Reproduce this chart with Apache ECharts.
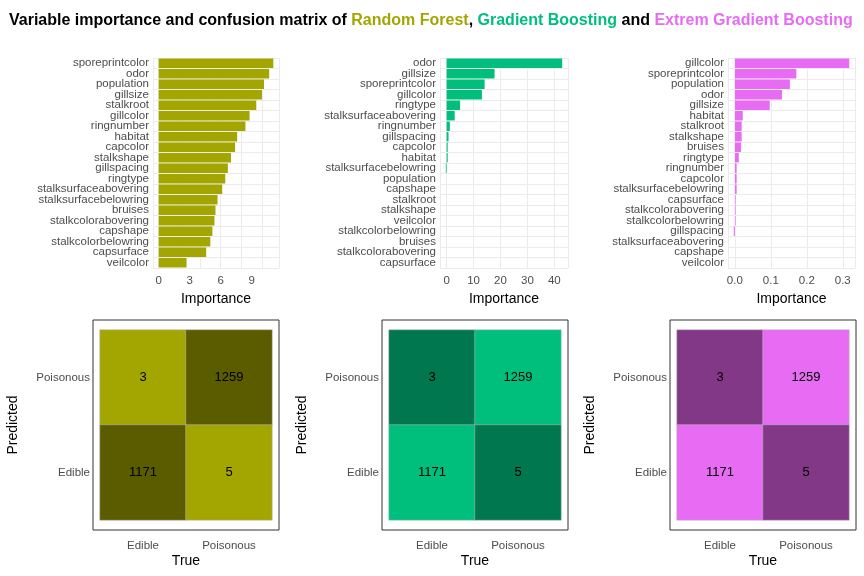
<!DOCTYPE html>
<html><head><meta charset="utf-8">
<script src="https://cdn.jsdelivr.net/npm/echarts@6/dist/echarts.min.js"></script>
<style>html,body{margin:0;padding:0;background:#fff}#c{width:864px;height:576px}</style>
</head><body><div id="c"></div>
<script>
// importance, listed top to bottom
const rfVars = ['sporeprintcolor','odor','population','gillsize','stalkroot','gillcolor','ringnumber','habitat','capcolor','stalkshape','gillspacing','ringtype','stalksurfaceabovering','stalksurfacebelowring','bruises','stalkcolorabovering','capshape','stalkcolorbelowring','capsurface','veilcolor'];
const rfImp = [11.1,10.7,10.2,10.0,9.45,8.8,8.4,7.6,7.4,7.0,6.7,6.45,6.15,5.7,5.5,5.4,5.2,5.0,4.6,2.7];
const gbVars = ['odor','gillsize','sporeprintcolor','gillcolor','ringtype','stalksurfaceabovering','ringnumber','gillspacing','capcolor','habitat','stalksurfacebelowring','population','capshape','stalkroot','stalkshape','veilcolor','stalkcolorbelowring','bruises','stalkcolorabovering','capsurface'];
const gbImp = [42.9,17.8,14.1,13.1,5.0,3.0,1.2,0.7,0.4,0.4,-0.3,0,0,0,0,0,0,0,0,0];
const xgVars = ['gillcolor','sporeprintcolor','population','odor','gillsize','habitat','stalkroot','stalkshape','bruises','ringtype','ringnumber','capcolor','stalksurfacebelowring','capsurface','stalkcolorabovering','stalkcolorbelowring','gillspacing','stalksurfaceabovering','capshape','veilcolor'];
const xgImp = [0.318,0.171,0.153,0.131,0.097,0.022,0.019,0.019,0.017,0.011,0.005,0.005,0.005,0.002,0.002,0.002,-0.003,0,0,0];
// confusion matrix: [true, predicted, count]
const classes = ['Edible','Poisonous'];
const confusion = [[0,1,3],[1,1,1259],[0,0,1171],[1,0,5]];

const chart = echarts.init(document.getElementById('c'));
const txt = '#4d4d4d', grid = '#ebebeb';

const panels = [
  {vars: rfVars, imp: rfImp, col: '#A3A500', dark: '#5B5B00', left: 153, right: 864-279, min: -0.55, max: 11.65, ticks: [0,3,6,9], tileL: 100, hiCells: [0,3]},
  {vars: gbVars, imp: gbImp, col: '#00BF7D', dark: '#00774E', left: 440, right: 864-568, min: -2.46, max: 45.06, ticks: [0,10,20,30,40], tileL: 389, hiCells: [1,2]},
  {vars: xgVars, imp: xgImp, col: '#E76BF3', dark: '#823887', left: 728, right: 864-855, min: -0.019, max: 0.334, ticks: [0,0.1,0.2,0.3], tileL: 677, hiCells: [1,2]}
];

const grids = [], xAxes = [], yAxes = [], series = [], graphic = [];
panels.forEach(function (p, i) {
  // bar panel
  grids.push({left: p.left, right: p.right, top: 58, bottom: 576-268});
  xAxes.push({type: 'value', gridIndex: 2*i, min: p.min, max: p.max,
    name: 'Importance', nameLocation: 'middle', nameGap: 24, nameTextStyle: {fontSize: 14, color: '#000'},
    axisLine: {show: false}, axisTick: {show: false},
    axisLabel: {customValues: p.ticks, color: txt, fontSize: 11.5, margin: 7,
      formatter: function (v) { return i == 2 ? v.toFixed(1) : String(v); }},
    splitLine: {lineStyle: {color: grid}}});
  yAxes.push({type: 'category', gridIndex: 2*i, data: p.vars, inverse: true,
    axisLine: {show: false}, axisTick: {show: false},
    axisLabel: {color: txt, fontSize: 11.5, margin: 4, interval: 0, lineHeight: 10},
    splitLine: {show: true, interval: 0, lineStyle: {color: grid}}});
  series.push({type: 'bar', xAxisIndex: 2*i, yAxisIndex: 2*i, data: p.imp, barWidth: '90%',
    itemStyle: {color: p.col}, silent: true});
  // confusion matrix panel
  grids.push({left: p.tileL, width: 172, top: 330, height: 190});
  xAxes.push({type: 'category', gridIndex: 2*i+1, data: classes,
    name: 'True', nameLocation: 'middle', nameGap: 34, nameTextStyle: {fontSize: 14, color: '#000'},
    axisLine: {show: false}, axisTick: {show: false},
    axisLabel: {color: txt, fontSize: 11.5, margin: 20}, splitLine: {show: false}});
  yAxes.push({type: 'category', gridIndex: 2*i+1, data: classes,
    name: 'Predicted', nameLocation: 'middle', nameGap: 80, nameRotate: 90,
    nameTextStyle: {fontSize: 14, color: '#000'},
    axisLine: {show: false}, axisTick: {show: false},
    axisLabel: {color: txt, fontSize: 11.5, margin: 10}, splitLine: {show: false}});
  series.push({type: 'heatmap', xAxisIndex: 2*i+1, yAxisIndex: 2*i+1, silent: true,
    data: confusion.map(function (d, k) {
      return {value: d, itemStyle: {color: p.hiCells.indexOf(k) >= 0 ? p.col : p.dark, borderColor: '#bbbbbb', borderWidth: 0.5}};
    }),
    label: {show: true, color: '#000', fontSize: 13}});
  graphic.push({type: 'rect', shape: {x: p.tileL - 7, y: 320, width: 186, height: 210},
    style: {fill: null, stroke: '#333', lineWidth: 1}, silent: true});
});

chart.setOption({
  animation: false,
  textStyle: {fontFamily: 'Liberation Sans, Arial, sans-serif'},
  title: {
    text: '{b|Variable importance and confusion matrix of }{rf|Random Forest}{b|, }{gb|Gradient Boosting}{b| and }{xg|Extrem Gradient Boosting}',
    left: 4, top: 8,
    textStyle: {rich: {
      b: {fontSize: 16, fontWeight: 'bold', color: '#000'},
      rf: {fontSize: 16, fontWeight: 'bold', color: '#A3A500'},
      gb: {fontSize: 16, fontWeight: 'bold', color: '#00BF7D'},
      xg: {fontSize: 16, fontWeight: 'bold', color: '#E76BF3'}
    }}
  },
  grid: grids, xAxis: xAxes, yAxis: yAxes, series: series, graphic: graphic
});
</script></body></html>
